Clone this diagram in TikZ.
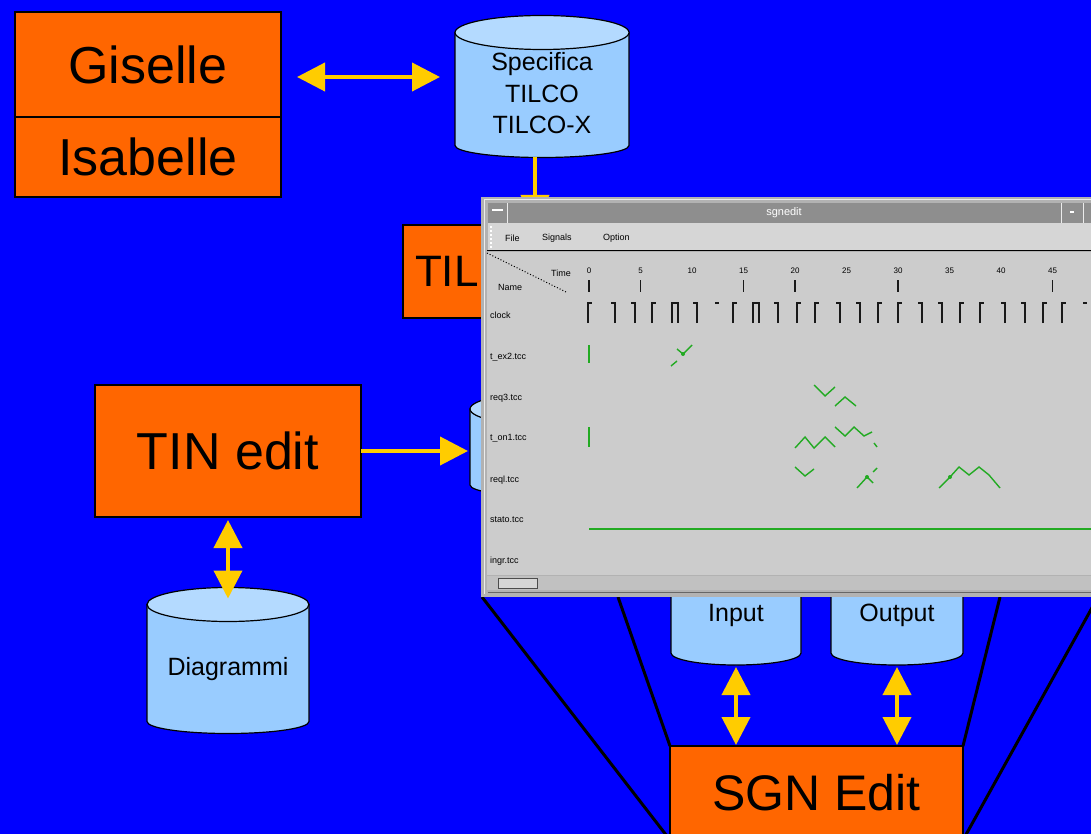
\documentclass[tikz,border=0pt]{standalone}
\usepackage{fontspec}
\setmainfont{Liberation Sans}
\usetikzlibrary{arrows.meta, positioning, calc, backgrounds}
\definecolor{slideblue}{RGB}{0,0,255}
\definecolor{toolorange}{RGB}{255,102,0}
\definecolor{flowyellow}{RGB}{255,204,0}
\definecolor{dbside}{RGB}{153,204,255}
\definecolor{dbtop}{RGB}{180,218,255}
\definecolor{winframe}{RGB}{178,178,178}
\definecolor{wintitle}{RGB}{142,142,142}
\definecolor{winmenu}{RGB}{214,214,214}
\definecolor{winpane}{RGB}{204,204,204}
\definecolor{wavegreen}{RGB}{34,170,34}
\tikzset{
    tool/.style={rectangle, draw=black, line width=1.5pt, fill=toolorange,
                 minimum width=266pt, inner sep=0pt, outer sep=0pt,
                 font=\fontsize{52}{60}\selectfont},
    store/.style={rectangle, inner sep=0pt, outer sep=0pt, align=center,
                  font=\fontsize{25}{31.5}\selectfont},
    storeside/.style={fill=dbside, draw=black, line width=1.2pt},
    storetop/.style={fill=dbtop, draw=black, line width=1.2pt},
    flow/.style={draw=flowyellow, line width=4pt, -{Triangle[length=28pt, width=28pt]}},
    dflow/.style={flow, {Triangle[length=28pt, width=28pt]}-{Triangle[length=28pt, width=28pt]}},
    lens/.style={draw=black, line width=3pt},
    wintext/.style={inner sep=0pt, font=\fontsize{9}{10}\selectfont},
    clk/.style={draw=black!90, line width=1.4pt},
    wave/.style={draw=wavegreen, line width=1.4pt}
}
% cylinder drawn behind a store node
\newcommand\storeshape[1]{%
  \begin{scope}[on background layer]
    \filldraw[storeside] let \p1=(#1.north west), \p2=(#1.south east), \n1={(\x2-\x1)/2} in
      (\p1) -- (\x1,\y2) arc[start angle=180, end angle=360, x radius=\n1, y radius=12pt] -- (\x2,\y1) -- cycle;
    \filldraw[storetop] let \p1=(#1.north west), \p2=(#1.south east), \n1={(\x2-\x1)/2} in
      ({(\x1+\x2)/2},\y1) ellipse[x radius=\n1, y radius=17pt];
  \end{scope}}

\begin{document}
\begin{tikzpicture}[x=1pt, y=-1pt]
    \useasboundingbox (0,0) rectangle (1091,834);
    \clip (0,0) rectangle (1091,834);
    \begin{scope}[on background layer]
        \fill[slideblue] (0,0) rectangle (1091,834);
    \end{scope}

    % tools
    \node[tool, minimum height=105pt] (giselle) at (148,64.5) {Giselle};
    \node[tool, minimum height=80pt, below=0pt of giselle] (isabelle) {Isabelle};
    \node[tool, minimum width=264pt, minimum height=93pt, text width=240pt, align=left,
          font=\fontsize{44}{50}\selectfont] (tilco) at (535,271.5) {TIL};
    \node[tool, minimum height=132pt] (tinedit) at (228,451) {TIN edit};
    \node[tool, minimum width=293pt, minimum height=94pt,
          font=\fontsize{50}{58}\selectfont] (sgnedit) at (816.5,793) {SGN Edit};

    % stores
    \node[store, minimum width=174pt, minimum height=113pt] (spec) at (542,89) {\rule{0pt}{27pt}Specifica\\TILCO\\TILCO-X};
    \storeshape{spec}
    \node[store, minimum width=170pt, minimum height=76pt] (tinstore) at (555,447) {};
    \storeshape{tinstore}
    \node[store, minimum width=162pt, minimum height=117pt, text height=30pt] (diagrammi) at (228,663) {Diagrammi};
    \storeshape{diagrammi}
    \node[store, minimum width=130pt, minimum height=81pt, text height=24pt] (input) at (736,612.5) {Input};
    \storeshape{input}
    \node[store, minimum width=132pt, minimum height=81pt, text height=24pt] (output) at (897,612.5) {Output};
    \storeshape{output}

    % flows
    \coordinate (gsl) at ([yshift=-12.5pt]giselle.east);
    \draw[dflow, shorten <=16pt, shorten >=15pt] (gsl) -- (gsl -| spec.west);
    \draw[flow, shorten <=12pt, shorten >=2pt] (spec.south -| tilco.north) -- (tilco.north);
    \draw[flow, shorten >=2pt] (tinedit.east) -- (tinedit.east -| tinstore.west);
    \draw[dflow, shorten <=3pt, shorten >=6pt] (tinedit.south) -- (diagrammi.north);
    \draw[dflow, shorten <=14pt, shorten >=1pt] (input.south) -- (input.south |- sgnedit.north);
    \draw[dflow, shorten <=14pt, shorten >=1pt] (output.south) -- (output.south |- sgnedit.north);

    % zoom lines
    \coordinate (lensa) at (482,597);
    \coordinate (lensb) at (618,597);
    \coordinate (lensc) at (1000,597);
    \coordinate (lensd) at (1098,597);
    \draw[lens] (lensa) -- (sgnedit.south west);
    \draw[lens] (lensb) -- (sgnedit.north west);
    \draw[lens] (lensc) -- (sgnedit.north east);
    \draw[lens] (lensd) -- (sgnedit.south east);

    % sgnedit window
    \fill[winframe] (481,197) rectangle (1100,597);
    \draw[white!85!gray, line width=1pt] (484,594) -- (484,200) -- (1100,200);
    \fill[wintitle] (488,203) rectangle (1100,223);
    \draw[white!85!gray, line width=1pt] (507,203) -- (507,223) (1061,203) -- (1061,223) (1083,203) -- (1083,223);
    \draw[white, line width=1.5pt] (492,210) -- (503,210);
    \draw[white, line width=1.2pt] (1070,212) -- (1074,212);
    \node[wintext, white, font=\fontsize{11}{12}\selectfont] (wtitle) at (784,213) {sgnedit};
    \fill[winmenu] (488,223) rectangle (1100,250);
    \draw[white, line width=2pt, dotted] (491,226) -- (491,248);
    \node[wintext, anchor=west] (mfile) at (505,238) {File};
    \node[wintext, anchor=west] (msignals) at (542,238) {Signals};
    \node[wintext, anchor=west] (moption) at (603,238) {Option};
    \draw[black, line width=1.5pt] (487,250.5) -- (1100,250.5);
    \fill[winpane] (487,251.5) rectangle (1100,575);
    \draw[black, dotted, line width=1pt] (487,253) -- (566,292);
    \node[wintext] (htime) at (561,273) {Time};
    \node[wintext] (hname) at (510,287) {Name};
    \foreach \t in {0,5,...,45}
        \node[wintext, font=\fontsize{8}{9}\selectfont] (tm\t) at ({589+10.3*\t},271) {\t};
    \foreach \t in {0,5,15,20,30,45}
        \draw[clk] ({589+10.3*\t},280) -- ++(0,12);
    \foreach \n/\y [count=\i] in {clock/315, t\_ex2.tcc/357, req3.tcc/398, t\_on1.tcc/438,
                                  reql.tcc/480, stato.tcc/520, ingr.tcc/561}
        \node[wintext, anchor=west] (sig\i) at (490,\y) {\n};

    % clock row
    \foreach \x in {588,652,733,797,815,878,898,960,980,1043,1062}
        \draw[clk] (\x,323) -- (\x,303) -- ++(4,0);
    \foreach \x in {615,635,697,778,840,860,922,942,1005,1025}
        \draw[clk] (\x,323) -- (\x,303) -- ++(-4,0);
    \foreach \x in {672,753}
        \draw[clk] (\x,323) -- (\x,303) -- ++(6,0) -- ++(0,20);
    \foreach \x in {715,1083}
        \draw[clk] (\x,303) -- ++(4,0);

    % traces
    \draw[wave] (589,345) -- (589,363);
    \draw[wave] (671,366) -- (677,361);
    \draw[wave] (677,349) -- (683,354) -- (692,345);
    \fill[wavegreen] (683,354) circle[radius=2pt];
    \draw[wave] (814,385) -- (825,396) -- (835,387);
    \draw[wave] (835,406) -- (845,397) -- (856,406);
    \draw[wave] (589,427) -- (589,447);
    \draw[wave] (795,448) -- (805,437) -- (814,448) -- (825,437) -- (835,447);
    \draw[wave] (835,427) -- (845,436) -- (854,427) -- (864,436) -- (872,432);
    \draw[wave] (874,443) -- (877,447);
    \draw[wave] (795,467) -- (805,476) -- (814,469);
    \draw[wave] (857,488) -- (867,477) -- (873,483);
    \draw[wave] (873,472) -- (877,468);
    \fill[wavegreen] (867,477) circle[radius=2pt];
    \draw[wave] (939,488) -- (950,477) -- (959,467) -- (969,475) -- (979,467) -- (989,475) -- (1000,488);
    \fill[wavegreen] (950,477) circle[radius=2pt];
    \draw[wave, line width=2pt] (589,529) -- (1100,529);

    % scroll bar
    \fill[winframe!80!white] (487,576) rectangle (1100,590);
    \filldraw[fill=winmenu, draw=black!70, line width=1pt] (498,578) rectangle (537,588);
    \draw[black!60, line width=1pt] (488,592.5) -- (1100,592.5);
\end{tikzpicture}
\end{document}
